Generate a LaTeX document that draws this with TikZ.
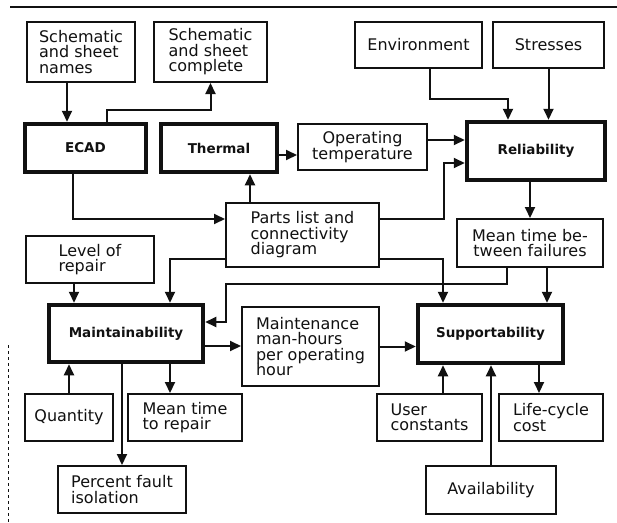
\documentclass[tikz,border=0pt]{standalone}
\usepackage{fontspec}
\setmainfont{DejaVu Sans}
\usetikzlibrary{arrows.meta, calc}
\definecolor{Ink}{HTML}{111111}
\definecolor{Paper}{HTML}{FFFFFF}

\begin{document}
\begin{tikzpicture}[
  x=1pt, y=-1pt,
  box/.style={
    draw=Ink,
    line width=2pt,
    fill=Paper,
    align=left,
    text=Ink,
    inner sep=2pt,
    font=\fontsize{16}{15.5}\selectfont
  },
  keybox/.style={
    box,
    line width=4.5pt,
    font=\fontsize{13.5}{15}\selectfont\bfseries
  },
  link/.style={
    -{Triangle[length=11pt,width=10pt]},
    line width=2pt,
    draw=Ink
  },
  rule/.style={
    line width=1.6pt,
    draw=Ink
  }
]

\fill[Paper] (0,0) rectangle (617,522);
\useasboundingbox (0,0) rectangle (617,522);

\draw[rule] (10,7) -- (617,7);
\draw[Ink, line width=0.6pt, dashed] (8,345) -- (8,522);

\node[box, minimum width=108pt, minimum height=60pt] (names) at (81,52)
  {Schematic\\and sheet\\names};
\node[box, minimum width=113pt, minimum height=60pt] (complete) at (210.5,52)
  {Schematic\\and sheet\\complete};
\node[box, minimum width=127pt, minimum height=46pt] (env) at (418.5,45)
  {Environment};
\node[box, minimum width=111pt, minimum height=46pt] (stress) at (548.5,45)
  {Stresses};

\node[keybox, minimum width=121pt, minimum height=48pt] (ecad) at (85.5,148)
  {ECAD};
\node[keybox, minimum width=116pt, minimum height=48pt] (thermal) at (219,148)
  {Thermal};
\node[box, align=center, minimum width=129pt, minimum height=46pt] (optemp) at (362.5,147)
  {Operating\\temperature};
\node[keybox, minimum width=138pt, minimum height=58pt] (reliab) at (536,151)
  {Reliability};

\node[box, minimum width=153pt, minimum height=64pt] (parts) at (302.5,235)
  {Parts list and\\connectivity\\diagram};
\node[box, align=center, minimum width=146pt, minimum height=48pt] (mtbf) at (530,243)
  {Mean time be-\\tween failures};
\node[box, minimum width=128pt, minimum height=47pt] (repair) at (90,259.5)
  {Level of\\repair};

\node[keybox, minimum width=154pt, minimum height=57pt] (maint) at (126,333.5)
  {Maintainability};
\node[box, minimum width=137pt, minimum height=79pt] (manhours) at (310.5,346.5)
  {Maintenance\\man-hours\\per operating\\hour};
\node[keybox, minimum width=145pt, minimum height=58pt] (support) at (490.5,334)
  {Supportability};

\node[box, minimum width=88pt, minimum height=47pt] (quantity) at (69,417.5)
  {Quantity};
\node[box, minimum width=114pt, minimum height=47pt] (mttr) at (185,417.5)
  {Mean time\\to repair};
\node[box, minimum width=128pt, minimum height=47pt] (pfi) at (122,489.5)
  {Percent fault\\isolation};
\node[box, minimum width=105pt, minimum height=47pt] (user) at (429.5,417.5)
  {User\\constants};
\node[box, minimum width=104pt, minimum height=47pt] (lcc) at (551,417.5)
  {Life-cycle\\cost};
\node[box, minimum width=130pt, minimum height=48pt] (avail) at (491,490)
  {Availability};

\draw[link] ([xshift=-14pt]names.south) -- ([xshift=-14pt]names.south |- ecad.north);
\draw[link] ([xshift=21.5pt]ecad.north) -- ++(0,-12) -| (complete.south);
\draw[link] ([yshift=-7pt]thermal.east) -- ([yshift=-7pt]thermal.east -| optemp.west);
\draw[link] ([yshift=7pt]optemp.east) -- ([yshift=7pt]optemp.east -| reliab.west);
\draw[link] ([xshift=11.5pt]env.south) -- ++(0,30) -| ([xshift=-28pt]reliab.north);
\draw[link] (stress.south) -- (stress.south |- reliab.north);

\draw[link] ([xshift=-12.5pt]ecad.south) |- ([yshift=16pt]parts.west);
\draw[link] ([xshift=-52.5pt]parts.north) -- ([xshift=-52.5pt]parts.north |- thermal.south);
\draw[link] ([yshift=16pt]parts.east) -- ++(64,0) |- ([yshift=-12pt]reliab.west);
\draw[link] ([yshift=-24pt]parts.east) -| ([xshift=-47.5pt]support.north);
\draw[link] ([yshift=-24pt]parts.west) -| ([xshift=44pt]maint.north);

\draw[link] (mtbf.north |- reliab.south) -- (mtbf.north);
\draw[link] ([xshift=-23pt]mtbf.south) -- ++(0,16) -| ([xshift=21pt,yshift=11.5pt]maint.east)
  -- ([yshift=11.5pt]maint.east);
\draw[link] ([xshift=17pt]mtbf.south) -- ([xshift=17pt]mtbf.south |- support.north);

\draw[link] ([xshift=-16pt]repair.south) -- ([xshift=-16pt]repair.south |- maint.north);
\draw[link] ([yshift=-12.5pt]maint.east) -- ([yshift=-12.5pt]maint.east -| manhours.west);
\draw[link] (manhours.east) -- (manhours.east -| support.west);

\draw[link] (quantity.north) -- (quantity.north |- maint.south);
\draw[link] ([xshift=-15pt]mttr.north |- maint.south) -- ([xshift=-15pt]mttr.north);
\draw[link] (pfi.north |- maint.south) -- (pfi.north);
\draw[link] ([xshift=13.5pt]user.north) -- ([xshift=13.5pt]user.north |- support.south);
\draw[link] ([xshift=-12pt]lcc.north |- support.south) -- ([xshift=-12pt]lcc.north);
\draw[link] (avail.north) -- (avail.north |- support.south);

\end{tikzpicture}
\end{document}
